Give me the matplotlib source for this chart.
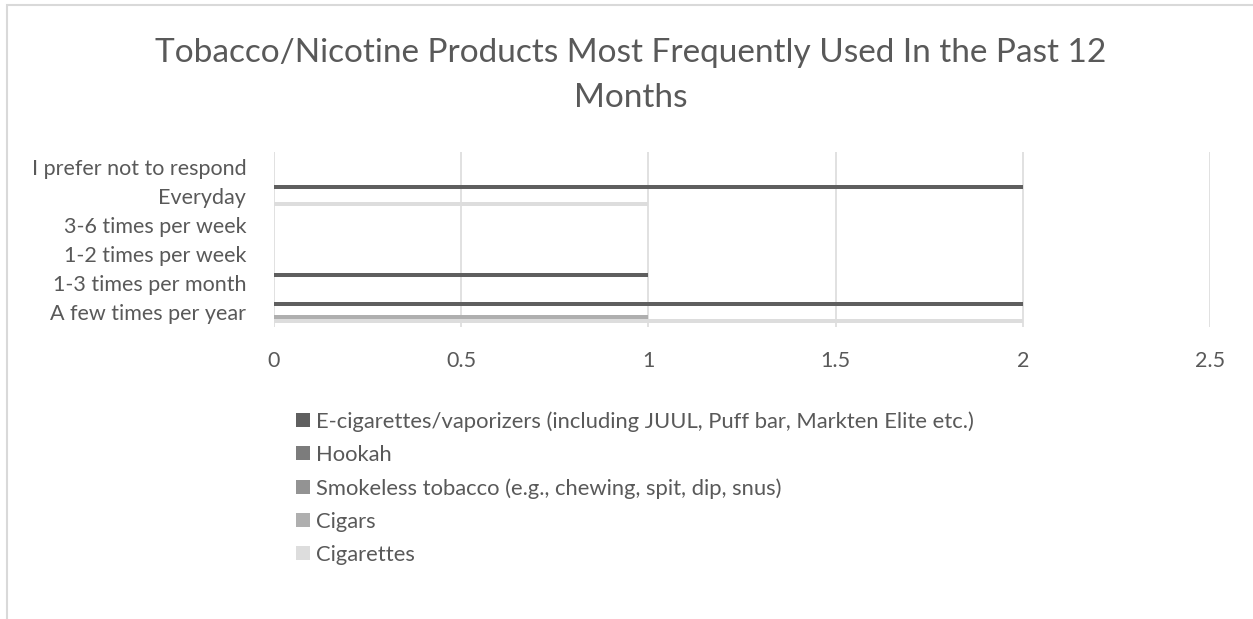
import matplotlib.pyplot as plt
import matplotlib.patches as mpatches
import numpy as np

plt.rcParams['font.family'] = ['Lato', 'DejaVu Sans']

categories = ["A few times per year", "1-3 times per month", "1-2 times per week",
              "3-6 times per week", "Everyday", "I prefer not to respond"]

# series listed bottom-to-top within each group
series = ["Cigarettes", "Cigars", "Smokeless tobacco (e.g., chewing, spit, dip, snus)",
          "Hookah", "E-cigarettes/vaporizers (including JUUL, Puff bar, Markten Elite etc.)"]
cigarettes = [2, 0, 0, 0, 1, 0]
cigars = [1, 0, 0, 0, 0, 0]
smokeless = [0, 0, 0, 0, 0, 0]
hookah = [0, 0, 0, 0, 0, 0]
ecig = [2, 1, 0, 0, 2, 0]
values = [cigarettes, cigars, smokeless, hookah, ecig]
colors = ["#dddddd", "#afafaf", "#939393", "#7c7c7c", "#5f5f5f"]
text_color = "#595959"
title_lines = ["Tobacco/Nicotine Products Most Frequently Used In the Past 12", "Months"]

fig = plt.figure(figsize=(12.53, 6.19), dpi=100)
fig.patches.append(mpatches.Rectangle((0.0055, -0.1), 1.1, 1.092, transform=fig.transFigure,
                                      fill=False, edgecolor="#d9d9d9", linewidth=1.5))

ax = fig.add_axes([0.2187, 0.4717, 0.7470, 0.2827])
y = np.arange(len(categories))
h = 0.147
bars = []
for i, (name, vals, c) in enumerate(zip(series, values, colors)):
    b = ax.barh(y + (i - 2) * h, vals, height=h, color=c, label=name, zorder=3)
    bars.append(b)

ax.set_xlim(0, 2.5)
ax.set_ylim(-0.5, len(categories) - 0.5)
ax.set_xticks([0, 0.5, 1, 1.5, 2, 2.5])
ax.set_xticklabels(["0", "0.5", "1", "1.5", "2", "2.5"])
ax.set_yticks(y)
ax.set_yticklabels(categories)
ax.grid(axis="x", color="#d9d9d9", linewidth=1.1, zorder=0)
for s in ax.spines.values():
    s.set_visible(False)
ax.tick_params(length=0, labelsize=15.5, colors=text_color)
ax.tick_params(axis="x", pad=17)
ax.tick_params(axis="y", pad=20)

# title, one baseline per line
for line, yb in zip(title_lines, [0.9003, 0.8267]):
    fig.text(0.5032, yb, line, ha="center", va="baseline", fontsize=24, color=text_color)

leg = fig.legend(bars[::-1], series[::-1], loc="upper left", bbox_to_anchor=(0.2362, 0.336),
                 frameon=False, fontsize=15.8, handlelength=0.65, handleheight=0.65,
                 handletextpad=0.28, labelspacing=0.6, borderpad=0, borderaxespad=0,
                 labelcolor=text_color)

fig.savefig("out.png", dpi=100)
